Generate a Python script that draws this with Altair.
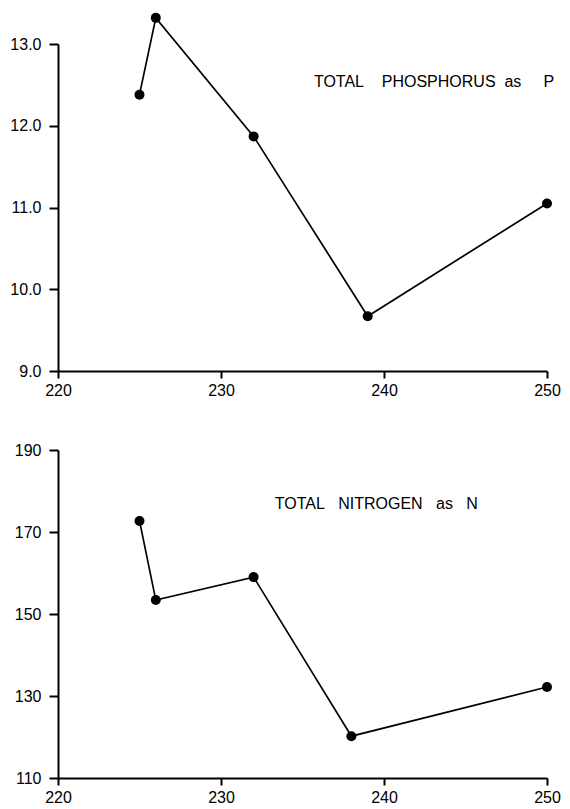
import altair as alt
import pandas as pd

# Data
p_x = [225, 226, 232, 239, 250]
p_y = [12.38, 13.32, 11.87, 9.67, 11.05]
n_x = [225, 226, 232, 238, 250]
n_y = [172.7, 153.4, 159.0, 120.2, 132.2]

x_ticks = [220, 230, 240, 250]
p_ticks = [9, 10, 11, 12, 13]
n_ticks = [110, 130, 150, 170, 190]

NB = "\u00a0"
p_label = "TOTAL" + NB * 4 + "PHOSPHORUS" + NB * 2 + "as" + NB * 5 + "P"
n_label = "TOTAL" + NB * 3 + "NITROGEN" + NB * 3 + "as" + NB * 3 + "N"

p_df = pd.DataFrame({"x": p_x, "y": p_y})
n_df = pd.DataFrame({"x": n_x, "y": n_y})
p_lab = pd.DataFrame({"x": [235.7], "y": [12.47], "t": [p_label]})
n_lab = pd.DataFrame({"x": [233.3], "y": [175.6], "t": [n_label]})

FONT = "Liberation Sans"
W = 489

def axis_x():
    return alt.Axis(values=x_ticks, title=None, grid=False, tickSize=7,
                    labelPadding=4, domainWidth=2, tickWidth=2,
                    domainColor="black", tickColor="black",
                    labelColor="black", labelFontSize=16, labelFont=FONT,
                    labelFlush=False)

def axis_y(fmt, yticks):
    return alt.Axis(values=yticks, title=None, grid=False, tickSize=9,
                    labelPadding=8, domainWidth=2, tickWidth=2,
                    domainColor="black", tickColor="black",
                    labelColor="black", labelFontSize=16, labelFont=FONT,
                    format=fmt, minExtent=47, maxExtent=47, labelFlush=False)

def panel(df, lab, ydom, yticks, fmt, h):
    ax_y = axis_y(fmt, yticks)
    xs = alt.X("x:Q", scale=alt.Scale(domain=[220, 250], nice=False, zero=False), axis=axis_x())
    ys = alt.Y("y:Q", scale=alt.Scale(domain=ydom, nice=False, zero=False), axis=ax_y)
    base = alt.Chart(df)
    line = base.mark_line(color="black", strokeWidth=1.7, clip=False).encode(x=xs, y=ys)
    pts = base.mark_point(filled=True, color="black", size=100, opacity=1, clip=False).encode(x=xs, y=ys)
    txt = alt.Chart(lab).mark_text(align="left", baseline="alphabetic", fontSize=16,
                                   font=FONT, color="black").encode(
        x=alt.X("x:Q", scale=alt.Scale(domain=[220, 250], nice=False, zero=False), axis=axis_x()),
        y=alt.Y("y:Q", scale=alt.Scale(domain=ydom, nice=False, zero=False), axis=ax_y),
        text="t:N")
    return alt.layer(line, pts, txt).properties(width=W, height=h)

top = panel(p_df, p_lab, [9, 13], p_ticks, ".1f", 327)
bot = panel(n_df, n_lab, [110, 190], n_ticks, "d", 328)

chart = alt.vconcat(top, bot, spacing=44).properties(
    padding={"left": 1, "top": 4, "right": 0, "bottom": 0},
    background="white"
).configure_view(strokeWidth=0, stroke="transparent")

chart.save("out.html", embed_options={"renderer": "svg", "actions": False})
